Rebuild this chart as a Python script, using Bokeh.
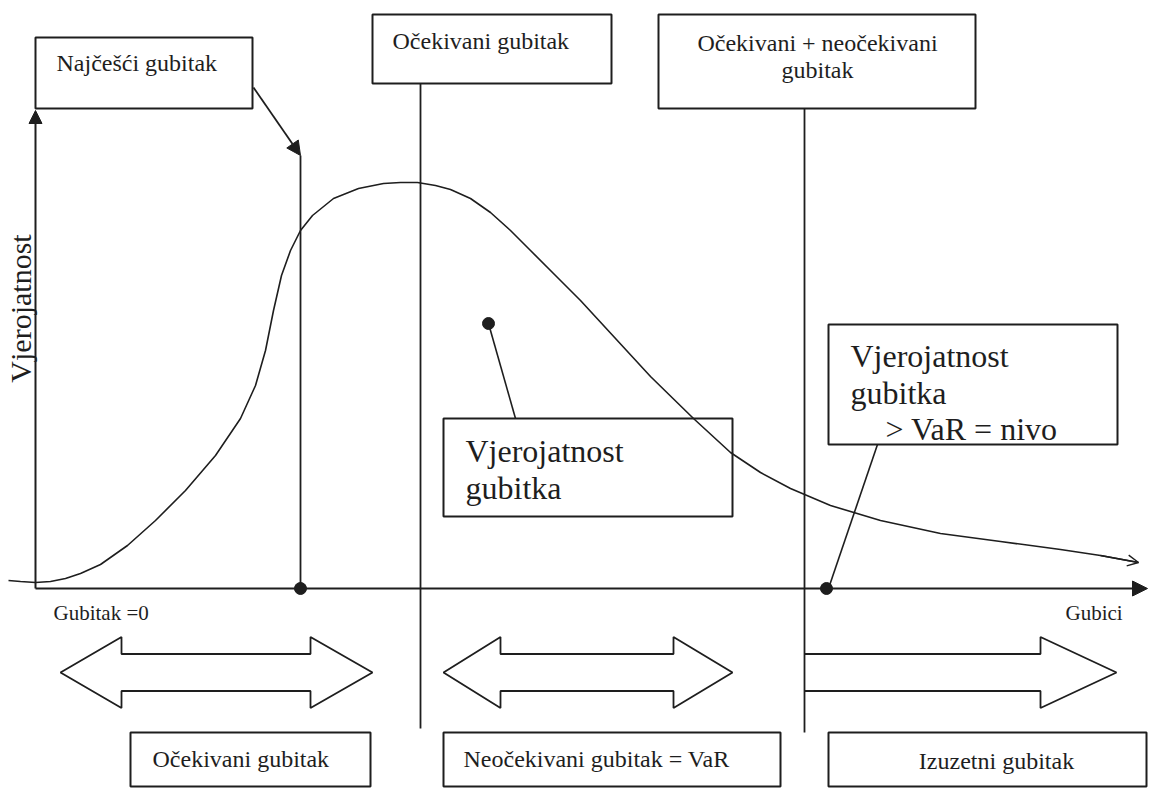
from math import pi
from bokeh.plotting import figure
from bokeh.models import Range1d, Arrow, NormalHead, OpenHead
from bokeh.core.properties import value
from bokeh.embed import file_html
from bokeh.resources import INLINE

INK = "#1e1e1e"
FONT = value("Liberation Serif")

# --- loss distribution curve (drawing units = pixels of the diagram) ---
curve_x = [8, 20, 35, 50, 65, 80, 100, 127, 155, 185, 215, 240, 255, 265, 273, 281, 290, 300,
           312, 333, 358, 383, 400, 417, 435, 450, 470, 490, 510, 530, 555, 580, 615, 650, 693,
           730, 760, 790, 830, 880, 940, 1000, 1060, 1100, 1138]
curve_y = [580, 581, 582, 581, 578, 573, 564, 545, 520, 490, 455, 418, 385, 350, 310, 275, 250, 230,
           215, 198, 188, 183, 182, 182, 185, 189, 198, 212, 230, 250, 275, 300, 338, 376, 418,
           452, 472, 488, 505, 520, 533, 541, 549, 555, 562]

# --- boxes ---
box_left = [35, 372, 658, 443, 828, 130, 443, 828]
box_right = [252, 611, 975, 732, 1117, 370, 780, 1146]
box_top = [37, 14, 14, 418, 324, 732, 732, 732]
box_bottom = [108, 83, 108, 516, 444, 786, 786, 786]

# --- labels ---
small_labels = ["Najčešći gubitak", "Očekivani gubitak", "Očekivani gubitak", "Neočekivani gubitak = VaR"]
small_x = [56, 392, 152, 463]
small_y = [62, 40, 758, 758]
center_labels = ["Očekivani + neočekivani", "gubitak", "Izuzetni gubitak"]
center_x = [817, 817, 996]
center_y = [42, 69, 760]
big_labels = ["Vjerojatnost", "gubitka", "Vjerojatnost", "gubitka", "> VaR = nivo"]
big_x = [465, 465, 850, 850, 885]
big_y = [450, 487, 355, 392, 428]
axis_labels = ["Gubitak =0", "Gubici"]
axis_lx = [53, 1065]
axis_ly = [612, 612]

# --- guide lines ---
vline_x = [300, 420, 804]
vline_top = [155, 83, 108]
vline_bottom = [588, 728, 732]
conn_x0 = [488, 877]
conn_y0 = [323, 444]
conn_x1 = [515, 828]
conn_y1 = [418, 588]
dot_x = [300, 826, 488]
dot_y = [588, 588, 323]

# --- block arrows: left tip, left head base, right head base, right tip ---
darrows = [[60, 121, 310, 372], [443, 500, 673, 732]]
sarrow = [804, 1040, 1116]
arrow_yc, head_half, body_half = 672, 35.5, 18.5

p = figure(width=1148, height=788, x_range=Range1d(0, 1148), y_range=Range1d(788, 0),
           output_backend="svg", toolbar_location=None, min_border=0)
p.axis.visible = False
p.grid.visible = False
p.outline_line_color = None
p.background_fill_color = "white"
p.border_fill_color = "white"

# boxes
p.quad(left=box_left, right=box_right, top=box_top, bottom=box_bottom,
       fill_color=None, line_color=INK, line_width=2)

# curve
p.line(curve_x, curve_y, line_color=INK, line_width=1.6)
p.add_layout(Arrow(end=OpenHead(size=11, line_color=INK, line_width=1.4),
                   x_start=curve_x[-2], y_start=curve_y[-2], x_end=curve_x[-1], y_end=curve_y[-1],
                   line_color=INK, line_width=1.6))

# axes
p.add_layout(Arrow(end=NormalHead(size=13, fill_color=INK, line_color=INK),
                   x_start=35, y_start=588, x_end=35, y_end=110, line_color=INK, line_width=2))
p.add_layout(Arrow(end=NormalHead(size=15, fill_color=INK, line_color=INK),
                   x_start=35, y_start=588, x_end=1147, y_end=588, line_color=INK, line_width=2))
p.add_layout(Arrow(end=NormalHead(size=14, fill_color=INK, line_color=INK),
                   x_start=253, y_start=87, x_end=300, y_end=155, line_color=INK, line_width=1.8))

# vertical lines and connectors
p.segment(x0=vline_x, y0=vline_top, x1=vline_x, y1=vline_bottom, line_color=INK, line_width=1.8)
p.segment(x0=conn_x0, y0=conn_y0, x1=conn_x1, y1=conn_y1, line_color=INK, line_width=1.6)
p.scatter(dot_x, dot_y, size=12, fill_color=INK, line_color=INK)

# block arrows
for tl, bl, br, tr in darrows:
    xs = [tl, bl, bl, br, br, tr, br, br, bl, bl]
    ys = [arrow_yc, arrow_yc - head_half, arrow_yc - body_half, arrow_yc - body_half,
          arrow_yc - head_half, arrow_yc, arrow_yc + head_half, arrow_yc + body_half,
          arrow_yc + body_half, arrow_yc + head_half]
    p.patch(xs, ys, fill_color="white", line_color=INK, line_width=1.8)
s0, sb, st = sarrow
p.line([s0, sb, sb, st, sb, sb, s0],
       [arrow_yc - body_half, arrow_yc - body_half, arrow_yc - head_half, arrow_yc,
        arrow_yc + head_half, arrow_yc + body_half, arrow_yc + body_half],
       line_color=INK, line_width=1.8)

# texts
p.text(small_x, small_y, text=small_labels, text_font=FONT, text_font_size="24px",
       text_color=INK, text_baseline="middle", text_align="left")
p.text(center_x, center_y, text=center_labels, text_font=FONT, text_font_size="24px",
       text_color=INK, text_baseline="middle", text_align="center")
p.text(big_x, big_y, text=big_labels, text_font=FONT, text_font_size="32px",
       text_color=INK, text_baseline="middle", text_align="left")
p.text(axis_lx, axis_ly, text=axis_labels, text_font=FONT, text_font_size="21px",
       text_color=INK, text_baseline="middle", text_align="left")
p.text([20], [308], text=["Vjerojatnost"], angle=pi / 2, text_font=FONT, text_font_size="30px",
       text_color=INK, text_baseline="middle", text_align="center")

open("out.html", "w").write(file_html(p, INLINE))
